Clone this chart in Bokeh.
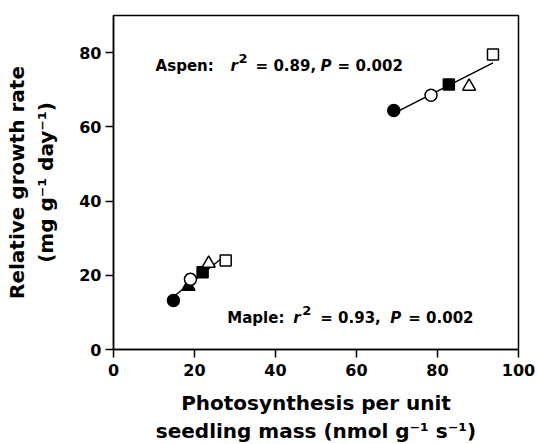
import numpy as np
from bokeh.plotting import figure
from bokeh.models import Range1d, FixedTicker
from bokeh.embed import file_html
from bokeh.resources import INLINE
from bokeh.core.properties import value

# ---- data ----
aspen_x = [69.2, 78.4, 82.8, 87.8, 93.7]
aspen_y = [64.4, 68.5, 71.4, 70.9, 79.5]
aspen_marker = ["circle", "circle", "square", "triangle", "square"]
aspen_fill = ["black", "white", "black", "white", "white"]

maple_x = [14.8, 18.5, 19.0, 22.0, 23.5, 27.7]
maple_y = [13.2, 17.0, 18.9, 20.8, 23.2, 24.0]
maple_marker = ["circle", "triangle", "circle", "square", "triangle", "square"]
maple_fill = ["black", "black", "white", "black", "white", "white"]

x_ticks = [0, 20, 40, 60, 80, 100]
y_ticks = [0, 20, 40, 60, 80]

aspen_stats = ["Aspen:", "r", "2", "= 0.89,", "P", "= 0.002"]
maple_stats = ["Maple:", "r", "2", "= 0.93,", "P", "= 0.002"]

x_title = "Photosynthesis per unit\nseedling mass (nmol g\u207b\u00b9 s\u207b\u00b9)"
y_title = "Relative growth rate\n(mg g\u207b\u00b9 day\u207b\u00b9)"

# ---- layout of annotations (anchor in data units, piece offsets in px) ----
aspen_anchor = (10.4, 76.5)
maple_anchor = (28.1, 8.6)
aspen_offsets = [0, 75, 83, 100, 165, 182]
maple_offsets = [0, 66, 75, 93, 163, 181]
piece_style = ["plain", "italic", "sup", "plain", "italic", "plain"]

FONT = "DejaVu Sans"

p = figure(frame_width=405, frame_height=334,
           min_border_left=113, min_border_right=20,
           min_border_top=15, min_border_bottom=94,
           x_range=Range1d(0, 100), y_range=Range1d(0, 90),
           output_backend="svg", toolbar_location=None,
           background_fill_color="white", border_fill_color="white")

p.xgrid.visible = False
p.ygrid.visible = False
p.outline_line_color = "black"
p.outline_line_width = 1.5
p.outline_line_alpha = 1.0

p.xaxis.ticker = FixedTicker(ticks=x_ticks)
p.yaxis.ticker = FixedTicker(ticks=y_ticks)
for ax in (p.xaxis, p.yaxis):
    ax.major_tick_out = 8
    ax.major_tick_in = 0
    ax.minor_tick_out = 0
    ax.minor_tick_in = 0
    ax.axis_line_width = 1.5
    ax.axis_line_color = "black"
    ax.major_tick_line_width = 1.5
    ax.major_tick_line_color = "black"
    ax.major_label_text_font = FONT
    ax.major_label_text_font_style = "bold"
    ax.major_label_text_font_size = "16px"
    ax.major_label_text_color = "black"
    ax.axis_label_text_font = FONT
    ax.axis_label_text_font_style = "bold"
    ax.axis_label_text_font_size = "20px"
    ax.axis_label_text_color = "black"
p.xaxis.major_label_standoff = 6
p.yaxis.major_label_standoff = 4
p.xaxis.axis_label = x_title
p.yaxis.axis_label = y_title
p.xaxis.axis_label_standoff = 12
p.yaxis.axis_label_standoff = 18

# regression lines
for xs, ys in ((aspen_x, aspen_y), (maple_x, maple_y)):
    k, b = np.polyfit(xs, ys, 1)
    lx = np.array([min(xs), max(xs)])
    p.line(lx, k * lx + b, line_color="black", line_width=1.5)

# markers
for xs, ys, ms, fs in ((aspen_x, aspen_y, aspen_marker, aspen_fill),
                       (maple_x, maple_y, maple_marker, maple_fill)):
    for xi, yi, mi, fi in zip(xs, ys, ms, fs):
        size = {"circle": 12, "square": 11, "triangle": 13}[mi]
        p.scatter([xi], [yi], marker=mi, size=size, fill_color=fi,
                  line_color="black", line_width=1.5)

# statistics text
for anchor, pieces, offs in ((aspen_anchor, aspen_stats, aspen_offsets),
                             (maple_anchor, maple_stats, maple_offsets)):
    for txt, off, st in zip(pieces, offs, piece_style):
        if st == "plain":
            p.text([anchor[0]], [anchor[1]], text=[txt], x_offset=off,
                   text_font=value(FONT), text_font_style="bold",
                   text_font_size="15px", text_baseline="alphabetic",
                   text_align="left", text_color="black")
        elif st == "italic":
            p.text([anchor[0]], [anchor[1]], text=[txt], x_offset=off,
                   text_font=value(FONT), text_font_style="bold italic",
                   text_font_size="15px", text_baseline="alphabetic",
                   text_align="left", text_color="black")
        else:
            p.text([anchor[0]], [anchor[1]], text=[txt], x_offset=off,
                   y_offset=-7,
                   text_font=value(FONT), text_font_style="bold",
                   text_font_size="13px", text_baseline="alphabetic",
                   text_align="left", text_color="black")

open("out.html", "w").write(file_html(p, INLINE))
